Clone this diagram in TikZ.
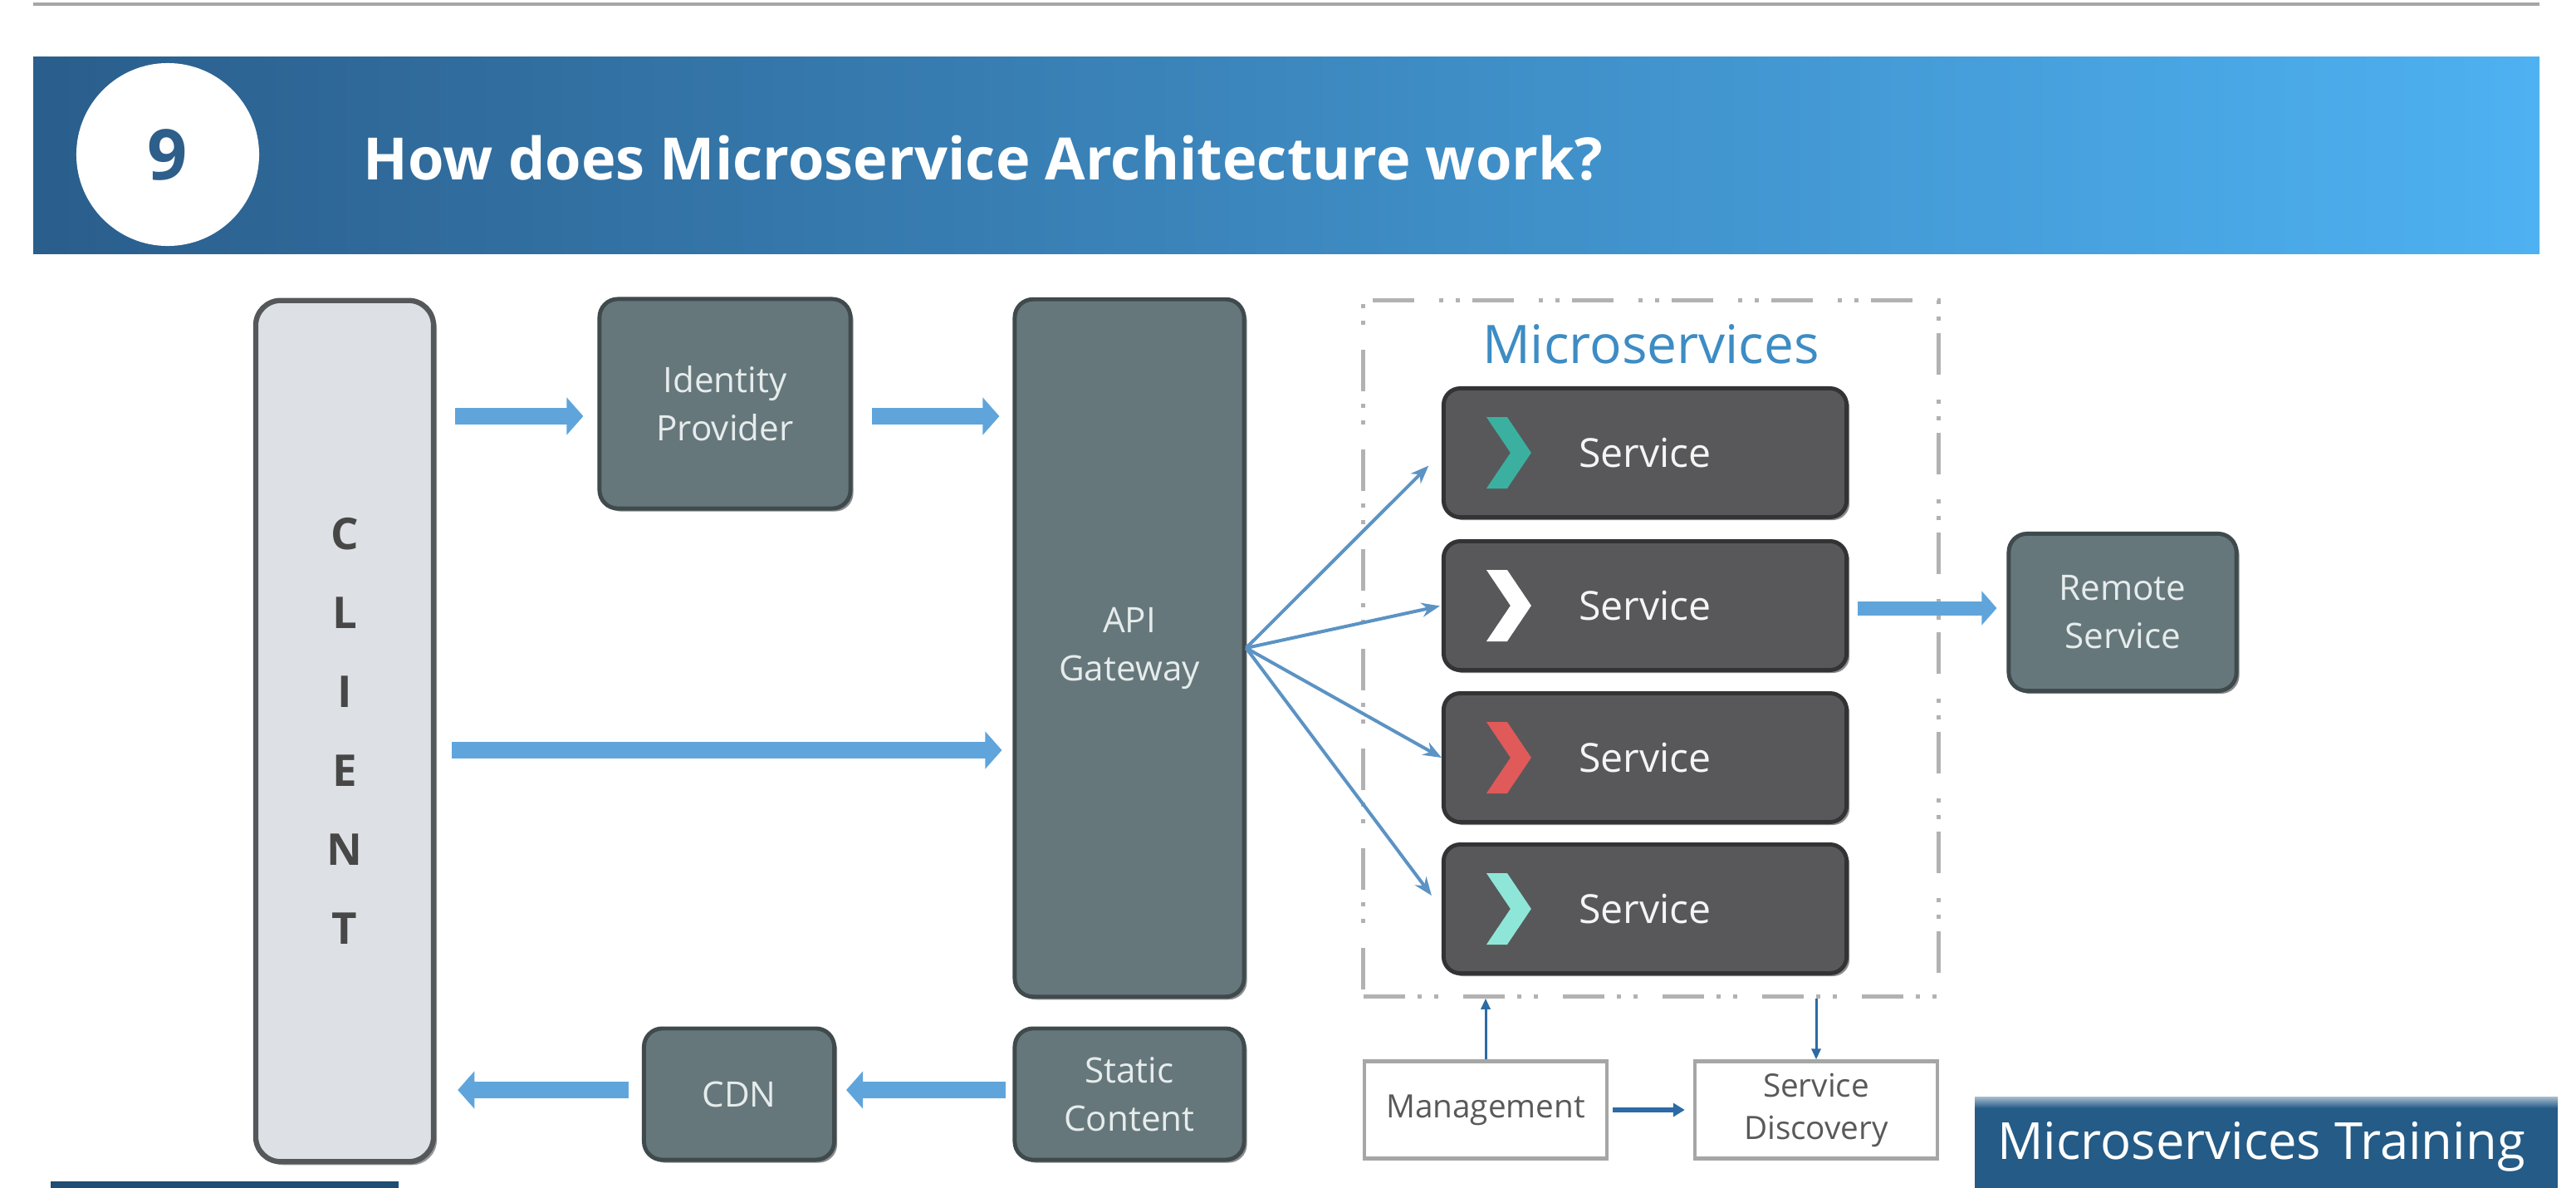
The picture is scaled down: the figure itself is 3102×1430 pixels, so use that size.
\documentclass[tikz,border=0pt]{standalone}
\usepackage{fontspec}
\setmainfont{Open Sans}
\usetikzlibrary{arrows.meta,calc,shadows}
\definecolor{slate}{HTML}{66777B}
\definecolor{slateedge}{HTML}{3F4A4D}
\definecolor{svcgray}{HTML}{58585A}
\definecolor{svcedge}{HTML}{333335}
\definecolor{clientfill}{HTML}{DDE1E5}
\definecolor{clientedge}{HTML}{55585B}
\definecolor{boxtext}{HTML}{E6ECEC}
\definecolor{arrowblue}{HTML}{5FA5DC}
\definecolor{thinblue}{HTML}{5B93C4}
\definecolor{darkblue}{HTML}{2C6BA5}
\definecolor{banleft}{HTML}{2A5E8C}
\definecolor{banright}{HTML}{4EB1F1}
\definecolor{numblue}{HTML}{2E5E8A}
\definecolor{mslabel}{HTML}{3D8CC4}
\definecolor{dashgray}{HTML}{B2B2B2}
\definecolor{trainblue}{HTML}{245B87}
\definecolor{chevteal}{HTML}{3BB0A0}
\definecolor{chevred}{HTML}{E05A5A}
\definecolor{chevaqua}{HTML}{8EE6D8}
\tikzset{
  graybox/.style={rectangle, rounded corners=0.22cm, fill=slate, draw=slateedge, line width=1.4pt,
    text=boxtext, align=center, inner sep=0pt, font=\fontsize{12}{16.5}\selectfont,
    drop shadow={shadow xshift=0.035cm, shadow yshift=-0.035cm, opacity=0.45, fill=black}},
  svcbox/.style={rectangle, rounded corners=0.2cm, fill=svcgray, draw=svcedge, line width=1.4pt,
    minimum width=4.85cm, minimum height=1.55cm, inner sep=0pt, text=white!92!gray,
    font=\fontsize{13.7}{16}\selectfont,
    drop shadow={shadow xshift=0.035cm, shadow yshift=-0.035cm, opacity=0.45, fill=black}},
  whitebox/.style={rectangle, fill=white, draw=gray!70, line width=1.2pt, minimum width=2.92cm,
    minimum height=1.17cm, inner sep=0pt, align=center, text=black!65,
    font=\fontsize{11}{14.5}\selectfont},
  bigarrow/.style={draw=arrowblue, line width=0.2cm, -{Triangle[width=0.44cm,length=0.2cm]}},
  midarrow/.style={draw=arrowblue, line width=0.17cm, -{Triangle[width=0.4cm,length=0.18cm]}},
  thinarrow/.style={draw=thinblue, line width=0.04cm, -{Stealth[length=0.22cm,width=0.17cm]}},
  darkarrow/.style={draw=darkblue, line width=0.03cm, -{Triangle[length=0.13cm,width=0.11cm]}},
  darkthick/.style={draw=darkblue, line width=0.06cm, -{Triangle[length=0.14cm,width=0.16cm]}},
}
\begin{document}
\begin{tikzpicture}[x=0.01cm,y=-0.01cm]
\useasboundingbox (0,0) rectangle (3102,1430);
\clip (0,0) rectangle (3102,1430);
\fill[white] (0,0) rectangle (3102,1430);

% top rule
\draw[gray!70, line width=0.04cm] (40,5) -- (3058,5);

% banner
\shade[left color=banleft, right color=banright] (40,68) rectangle (3058,305);
\node[circle, fill=white, minimum size=2.2cm, inner sep=0pt,
      font=\fontsize{24}{24}\selectfont\bfseries, text=numblue] (num) at (202,186) {9};
\node[anchor=west, text=white, font=\fontsize{20}{24}\selectfont\bfseries, inner sep=0pt]
      (title) at (437,190) {How does Microservice Architecture work?};

% client
\node[rectangle, rounded corners=0.3cm, fill=clientfill, draw=clientedge, line width=1.8pt,
      minimum width=2.14cm, minimum height=10.36cm, inner sep=0pt, align=center, text=black!72,
      font=\fontsize{15}{27}\selectfont\bfseries,
      drop shadow={shadow xshift=0.04cm, shadow yshift=-0.04cm, opacity=0.4, fill=black}]
      (client) at (415,880) {\raisebox{-0.08cm}{C}\\\raisebox{-0.08cm}{L}\\\raisebox{-0.08cm}{I}\\\raisebox{-0.08cm}{E}\\\raisebox{-0.08cm}{N}\\\raisebox{-0.08cm}{T}};

% gray boxes
\node[graybox, minimum width=3.02cm, minimum height=2.52cm] (idp) at (873,486) {Identity\\Provider};
\node[graybox, minimum width=2.76cm, minimum height=8.39cm] (api) at (1360,780) {API\\Gateway};
\node[graybox, minimum width=2.76cm, minimum height=1.58cm] (static) at (1360,1317) {Static\\Content};
\node[graybox, minimum width=2.29cm, minimum height=1.58cm] (cdn) at (890,1317) {CDN};
\node[graybox, minimum width=2.74cm, minimum height=1.89cm] (remote) at (2556,737) {Remote\\Service};

% microservices container
\node[rectangle, draw=dashgray, line width=0.05cm,
      dash pattern=on 0.5cm off 0.15cm on 0.05cm off 0.15cm on 0.05cm off 0.3cm,
      minimum width=6.92cm, minimum height=8.37cm, inner sep=0pt] (msbox) at (1988,780.5) {};
\node[text=mslabel, font=\fontsize{18.2}{20}\selectfont, inner sep=0pt] (mslbl)
      at ($(msbox.north)+(0,55)$) {Microservices};

% services
\node[svcbox] (s1) at (1981,545) {Service};
\node[svcbox] (s2) at (1981,729) {Service};
\node[svcbox] (s3) at (1981,912) {Service};
\node[svcbox] (s4) at (1981,1094) {Service};

% chevrons
\foreach \s/\c in {s1/chevteal, s2/white, s3/chevred, s4/chevaqua}{
  \fill[\c] ($(\s.west)+(54,-43)$) -- ($(\s.west)+(79,-43)$) -- ($(\s.west)+(108,0)$)
     -- ($(\s.west)+(79,43)$) -- ($(\s.west)+(54,43)$) -- ($(\s.west)+(83,0)$) -- cycle;
}

% management / discovery
\node[whitebox] (mgmt) at (1789,1336) {Management};
\node[whitebox] (sd) at (2187,1336) {Service\\Discovery};

% big arrows
\draw[bigarrow, shorten <=0.23cm, shorten >=0.17cm] (client.east |- 0,501) -- (idp.west |- 0,501);
\draw[bigarrow, shorten <=0.23cm, shorten >=0.16cm] (idp.east |- 0,501) -- (api.west |- 0,501);
\draw[bigarrow, shorten <=0.19cm, shorten >=0.13cm] (client.east |- 0,903) -- (api.west |- 0,903);
\draw[bigarrow, shorten <=0.08cm, shorten >=0.12cm] (static.west |- 0,1312) -- (cdn.east |- 0,1312);
\draw[bigarrow, shorten <=0.16cm, shorten >=0.26cm] (cdn.west |- 0,1312) -- (client.east |- 0,1312);
\draw[midarrow, shorten <=0.11cm, shorten >=0.12cm] (s2.east |- 0,732) -- (remote.west |- 0,732);

% fan-out from gateway
\draw[thinarrow, shorten >=0.22cm] (api.east) -- (s1.west);
\draw[thinarrow, shorten >=0.02cm] (api.east) -- (s2.west);
\draw[thinarrow] (api.east) -- (s3.west);
\draw[thinarrow, shorten >=0.2cm] (api.east) -- (s4.west);

% management arrows
\draw[darkarrow] (mgmt.north) -- (mgmt.north |- msbox.south);
\draw[darkarrow] (msbox.south -| sd.north) -- (sd.north);
\draw[darkthick, shorten <=0.05cm, shorten >=0.1cm] (mgmt.east) -- (sd.west);

% bottom bars
\fill[trainblue] (2378,1322) rectangle (3080,1440);
\shade[top color=white!60!trainblue, bottom color=trainblue] (2378,1320) rectangle (3080,1334);
\node[text=white, font=\fontsize{17.5}{20}\selectfont, inner sep=0pt] (train) at (2723,1380) {Microservices Training};
\fill[trainblue!85!black] (61,1422) rectangle (480,1440);
\end{tikzpicture}
\end{document}
